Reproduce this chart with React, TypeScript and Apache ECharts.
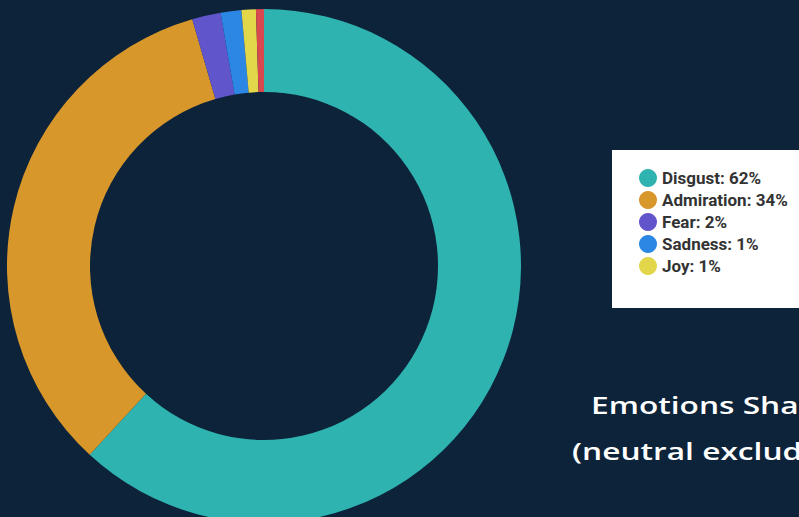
import React, { useEffect, useRef } from "react";
import * as echarts from "echarts";

const categories = ["Disgust", "Admiration", "Fear", "Sadness", "Joy", "Anger"];
const values = [61.8, 33.6, 1.8, 1.3, 0.9, 0.5];
const percentLabels = ["62%", "34%", "2%", "1%", "1%", "0%"];
const colors = ["#2fb3b0", "#d8972a", "#6155cc", "#2b87e3", "#e2d64a", "#d9474f"];
const legendItems = ["Disgust", "Admiration", "Fear", "Sadness", "Joy"];
const titleLines = ["Emotions Share", "(neutral excluded)"];

export default function App() {
  const ref = useRef<HTMLDivElement>(null);
  useEffect(() => {
    document.body.style.margin = "0";
    const chart = echarts.init(ref.current!, null, { renderer: "svg" });
    chart.setOption({
      animation: false,
      backgroundColor: "#0c233a",
      color: colors,
      graphic: [
        {
          type: "rect",
          left: 612,
          top: 150,
          shape: { width: 200, height: 158 },
          style: { fill: "#ffffff" },
          z: 0,
        },
        {
          type: "text",
          x: 591,
          y: 393,
          scaleX: 1.32,
          style: {
            text: titleLines[0],
            fill: "#ffffff",
            align: "left",
            verticalAlign: "top",
            font: "600 24px 'Open Sans', sans-serif",
          },
        },
        {
          type: "text",
          x: 572,
          y: 439,
          scaleX: 1.32,
          style: {
            text: titleLines[1],
            fill: "#ffffff",
            align: "left",
            verticalAlign: "top",
            font: "600 24px 'Open Sans', sans-serif",
          },
        },
      ],
      legend: {
        data: legendItems,
        orient: "vertical",
        left: 634,
        top: 164,
        icon: "circle",
        itemWidth: 18,
        itemHeight: 18,
        itemGap: 4,
        z: 5,
        formatter: (name: string) => {
          const i = categories.indexOf(name);
          return `${name}: ${percentLabels[i]}`;
        },
        textStyle: {
          color: "#333333",
          fontSize: 17,
          lineHeight: 18,
          fontWeight: "bold",
          fontFamily: "Roboto, sans-serif",
        },
      },
      series: [
        {
          type: "pie",
          center: [264, 266],
          radius: [174, 257],
          startAngle: 90,
          clockwise: true,
          label: { show: false },
          labelLine: { show: false },
          emphasis: { disabled: true },
          itemStyle: { borderWidth: 0 },
          data: categories.map((name, i) => ({ name, value: values[i] })),
        },
      ],
    });
    return () => chart.dispose();
  }, []);
  return <div ref={ref} style={{ width: 799, height: 517 }} />;
}
